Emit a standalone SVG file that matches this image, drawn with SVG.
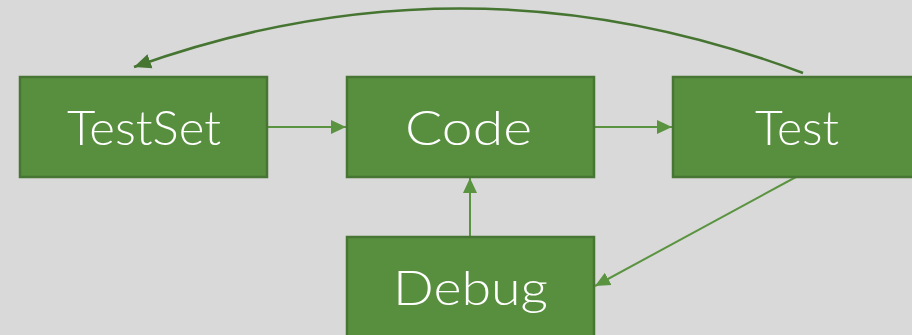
<svg xmlns="http://www.w3.org/2000/svg" width="912" height="335" viewBox="0 0 912 335">
  <style>
    .box { fill: #588F3F; stroke: #477533; stroke-width: 2.5; }
    .label { font-family: "Lato", "Noto Sans", "DejaVu Sans", sans-serif; font-weight: 300; font-size: 48px; fill: #FFFFFF; text-anchor: middle; }
    .flow { fill: none; stroke: #5B9441; stroke-width: 2; }
    .back { fill: none; stroke: #467532; stroke-width: 2.5; }
  </style>
  <defs>
    <marker id="arrow" markerUnits="userSpaceOnUse" markerWidth="16" markerHeight="16" viewBox="0 0 16 16" refX="15" refY="8" orient="auto">
      <path d="M0,1 L15,8 L0,15 Z" fill="#5B9441"/>
    </marker>
    <marker id="arrow-dark" markerUnits="userSpaceOnUse" markerWidth="18" markerHeight="18" viewBox="0 0 18 18" refX="17" refY="9" orient="auto">
      <path d="M0,1.5 L17,9 L0,16.5 Z" fill="#467532"/>
    </marker>
  </defs>
  <rect width="912" height="335" fill="#D9D9D9"/>

  <g id="connectors">
    <line class="flow" x1="268" y1="127" x2="346" y2="127" marker-end="url(#arrow)"/>
    <line class="flow" x1="595" y1="127" x2="672" y2="127" marker-end="url(#arrow)"/>
    <line class="flow" x1="470" y1="236" x2="470" y2="178" marker-end="url(#arrow)"/>
    <line class="flow" x1="796" y1="177" x2="595" y2="286" marker-end="url(#arrow)"/>
    <path class="back" d="M803,73 Q468,-53 134,67" marker-end="url(#arrow-dark)"/>
  </g>

  <g id="node-testset">
    <rect class="box" x="20" y="77" width="247" height="100"/>
    <text class="label" x="144" y="145" textLength="154" lengthAdjust="spacingAndGlyphs">TestSet</text>
  </g>
  <g id="node-code">
    <rect class="box" x="347" y="77" width="247" height="100"/>
    <text class="label" x="468.5" y="145" textLength="127" lengthAdjust="spacingAndGlyphs">Code</text>
  </g>
  <g id="node-test">
    <rect class="box" x="673" y="77" width="250" height="100"/>
    <text class="label" x="797" y="145" textLength="84" lengthAdjust="spacingAndGlyphs">Test</text>
  </g>
  <g id="node-debug">
    <rect class="box" x="347" y="237" width="247" height="110"/>
    <text class="label" x="470.5" y="305" textLength="155" lengthAdjust="spacingAndGlyphs">Debug</text>
  </g>
</svg>
